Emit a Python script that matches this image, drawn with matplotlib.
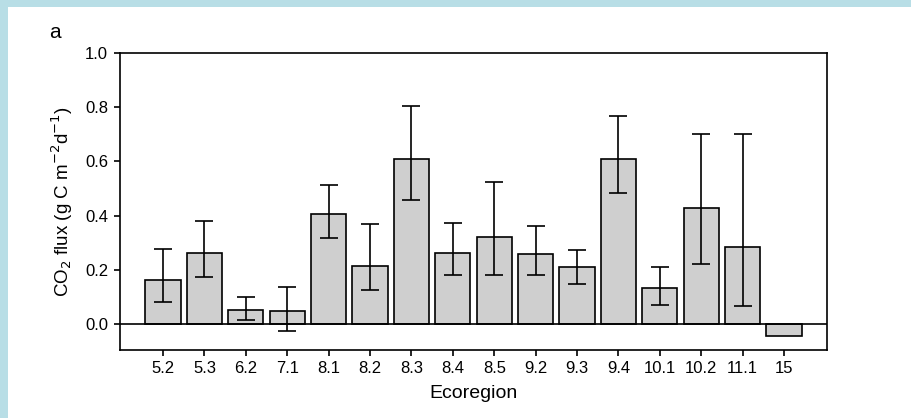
import matplotlib.pyplot as plt
from matplotlib.patches import Rectangle
import numpy as np

plt.rcParams['font.family'] = ['Liberation Sans', 'DejaVu Sans']

# ecoregions and mean CO2 flux with lower / upper error bar ends
regions = ["5.2", "5.3", "6.2", "7.1", "8.1", "8.2", "8.3", "8.4",
           "8.5", "9.2", "9.3", "9.4", "10.1", "10.2", "11.1", "15"]
flux = [0.162, 0.264, 0.053, 0.047, 0.405, 0.216, 0.610, 0.264,
        0.320, 0.258, 0.210, 0.610, 0.132, 0.428, 0.283, -0.044]
err_low = [0.082, 0.173, 0.016, -0.026, 0.319, 0.125, 0.459, 0.180,
           0.180, 0.180, 0.149, 0.482, 0.071, 0.223, 0.066, None]
err_high = [0.277, 0.380, 0.102, 0.139, 0.513, 0.368, 0.803, 0.375,
            0.525, 0.362, 0.272, 0.766, 0.210, 0.700, 0.700, None]

fig = plt.figure(figsize=(9.11, 4.18), dpi=100)
# light blue frame on top and left edges
fig.patches.append(Rectangle((0, 1 - 7/418), 1, 7/418, transform=fig.transFigure,
                             facecolor="#b8dee6", edgecolor="none"))
fig.patches.append(Rectangle((0, 0), 8/911, 1, transform=fig.transFigure,
                             facecolor="#b8dee6", edgecolor="none"))

ax = fig.add_axes([0.1317, 0.1627, 0.7758, 0.7105])
x = np.arange(len(regions))
ax.bar(x, flux, width=0.85, color="#cfcfcf", edgecolor="black", linewidth=1.2, zorder=2)

idx = [i for i in range(len(regions)) if err_low[i] is not None]
ym = np.array([flux[i] for i in idx])
lo = ym - np.array([err_low[i] for i in idx])
hi = np.array([err_high[i] for i in idx]) - ym
ax.errorbar(idx, ym, yerr=[lo, hi], fmt="none", ecolor="black",
            elinewidth=1.2, capsize=6.5, capthick=1.2, zorder=3)

ax.axhline(0, color="black", linewidth=1.2, zorder=4)
ax.set_xlim(-1.04, 16.03)
ax.set_ylim(-0.095, 1.0)
ax.set_xticks(x)
ax.set_xticklabels(regions)
ax.set_yticks([0.0, 0.2, 0.4, 0.6, 0.8, 1.0])
ax.set_yticklabels(["0.0", "0.2", "0.4", "0.6", "0.8", "1.0"])
ax.tick_params(direction="out", length=4.5, width=1.2, labelsize=12)
ax.tick_params(axis="x", pad=3.5)
ax.tick_params(axis="y", pad=4)
for s in ax.spines.values():
    s.set_linewidth(1.2)

ax.set_xlabel("Ecoregion", fontsize=14, va="center")
ax.xaxis.set_label_coords(0.5, -0.148)
ax.set_ylabel("CO$_2$ flux (g C m$^{-2}$d$^{-1}$)", fontsize=13.5, va="center")
ax.yaxis.set_label_coords(-0.082, 0.5)
fig.text(55/911, 1 - 33/418, "a", fontsize=15, ha="center", va="center")

fig.savefig("out.png", dpi=100)
